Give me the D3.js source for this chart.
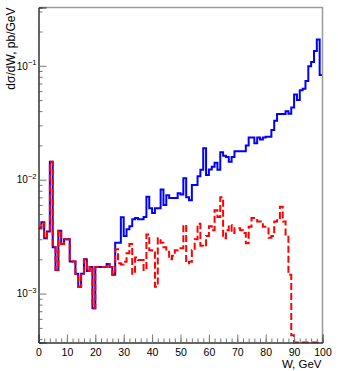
<!DOCTYPE html>
<html>
<head>
<meta charset="utf-8">
<script src="https://cdn.jsdelivr.net/npm/d3@7"></script>
<style>
  body { margin: 0; background: #fff; }
  text { font-family: "Liberation Sans", Arial, sans-serif; }
</style>
</head>
<body>
<script>
 // bin edges 0..100 GeV, 1 GeV bins
 const edges = d3.range(0, 101);

 const blue = [
   3.75e-3, 4.23e-3, 3.06e-3, 3.50e-3, 1.44e-2, 2.55e-3, 1.61e-3, 3.57e-3, 2.73e-3, 3.0e-3,
   3.0e-3, 1.91e-3, 1.91e-3, 1.49e-3, 1.15e-3, 1.49e-3, 2.0e-3, 1.58e-3, 1.71e-3, 7.45e-4,
   1.71e-3, 1.71e-3, 1.71e-3, 1.71e-3, 1.82e-3, 1.71e-3, 1.46e-3, 2.8e-3, 2.8e-3, 4.68e-3,
   3.2e-3, 3.67e-3, 3.9e-3, 4.5e-3, 4.6e-3, 4.5e-3, 4.5e-3, 4.7e-3, 7.1e-3, 5.6e-3,
   5.1e-3, 5.6e-3, 5.6e-3, 8.2e-3, 6.0e-3, 7.3e-3, 6.9e-3, 6.9e-3, 6.9e-3, 7.6e-3,
   7.4e-3, 1.03e-2, 7.0e-3, 6.6e-3, 9.0e-3, 9.0e-3, 1.07e-2, 1.22e-2, 1.89e-2, 1.10e-2,
   1.23e-2, 1.30e-2, 1.41e-2, 1.22e-2, 1.74e-2, 1.62e-2, 1.58e-2, 1.44e-2, 1.58e-2, 1.78e-2,
   1.78e-2, 1.78e-2, 1.78e-2, 2.0e-2, 2.35e-2, 2.35e-2, 2.09e-2, 2.35e-2, 2.25e-2, 2.35e-2,
   2.38e-2, 2.38e-2, 2.73e-2, 3.29e-2, 3.77e-2, 3.77e-2, 3.77e-2, 3.99e-2, 3.8e-2, 4.3e-2,
   5.6e-2, 5.0e-2, 6.1e-2, 6.3e-2, 7.35e-2, 9.9e-2, 0.108, 0.135, 0.170, 0.083
 ];

 const red = [
   3.75e-3, 4.23e-3, 3.06e-3, 3.50e-3, 1.44e-2, 2.55e-3, 1.61e-3, 3.57e-3, 2.73e-3, 3.0e-3,
   3.0e-3, 1.91e-3, 1.91e-3, 1.49e-3, 1.15e-3, 1.49e-3, 2.0e-3, 1.58e-3, 1.71e-3, 7.45e-4,
   1.71e-3, 1.71e-3, 1.71e-3, 1.71e-3, 1.82e-3, 1.71e-3, 1.46e-3, 2.45e-3, 1.85e-3, 1.8e-3,
   1.9e-3, 2.26e-3, 2.73e-3, 1.49e-3, 2.07e-3, 1.97e-3, 1.97e-3, 1.61e-3, 3.3e-3, 2.4e-3,
   2.3e-3, 1.15e-3, 3.06e-3, 2.8e-3, 2.55e-3, 2.33e-3, 2.0e-3, 2.15e-3, 2.4e-3, 2.5e-3,
   2.5e-3, 4.0e-3, 1.85e-3, 1.9e-3, 2.4e-3, 3.0e-3, 4.1e-3, 2.63e-3, 2.6e-3, 3.2e-3,
   3.9e-3, 3.6e-3, 5.4e-3, 4.7e-3, 7.0e-3, 3.06e-3, 3.6e-3, 4.0e-3, 3.4e-3, 3.75e-3,
   3.75e-3, 3.6e-3, 3.4e-3, 2.76e-3, 3.86e-3, 4.6e-3, 4.6e-3, 4.3e-3, 4.3e-3, 3.86e-3,
   3.86e-3, 3.1e-3, 3.2e-3, 4.3e-3, 4.4e-3, 5.8e-3, 4.3e-3, 3.3e-3, 1.46e-3, 4.3e-4,
   0, 0, 0, 0, 0, 0, 0, 0, 0, 0
 ];

 const xTicks = d3.range(0, 101, 10);
 const xMinor = d3.range(0, 101, 2);
 const yMajor = [1e-3, 1e-2, 1e-1];

 const width = 338;
 const height = 371;
 const mLeft = 38.5, mRight = 322.5, mTop = 7.5, mBottom = 342.5;

 const x = d3.scaleLinear().domain([0, 100]).range([mLeft, mRight]);
 const y = d3.scaleLog().domain([3.72e-4, 0.325]).range([mBottom, mTop]);
 const yMin = y.domain()[0];

 const svg = d3.select('body').append('svg')
   .attr('width', width)
   .attr('height', height);

 svg.append('clipPath').attr('id', 'frame')
   .append('rect')
   .attr('x', mLeft).attr('y', mTop - 1)
   .attr('width', mRight - mLeft).attr('height', mBottom - mTop + 2);

 // histogram outline as a step line
 const step = d3.line()
   .x(d => x(d[0]))
   .y(d => y(Math.max(d[1], yMin)))
   .curve(d3.curveStepAfter);

 const toPoints = vals => vals.map((v, i) => [edges[i], v]).concat([[edges[100], vals[99]]]);

 const g = svg.append('g').attr('clip-path', 'url(#frame)');

 g.append('path')
   .datum(toPoints(blue))
   .attr('d', step)
   .attr('fill', 'none')
   .attr('stroke', '#0000ff')
   .attr('stroke-width', 2);

 g.append('path')
   .datum(toPoints(red))
   .attr('d', step)
   .attr('fill', 'none')
   .attr('stroke', '#ff0000')
   .attr('stroke-width', 2)
   .attr('stroke-dasharray', '7,3');

 // frame: top and right
 svg.append('path')
   .attr('d', `M${mLeft},${mTop}H${mRight}V${mBottom}`)
   .attr('fill', 'none')
   .attr('stroke', '#9a9a9a')
   .attr('stroke-width', 1.5);

 // x axis
 const xAxisMinor = svg.append('g')
   .attr('transform', `translate(0,${mBottom})`)
   .call(d3.axisBottom(x).tickValues(xMinor).tickSize(-4).tickFormat(''));

 const xAxis = svg.append('g')
   .attr('transform', `translate(0,${mBottom})`)
   .call(d3.axisBottom(x).tickValues(xTicks).tickSize(-8).tickPadding(6).tickFormat(d3.format('d')));

 // y axis, minor ticks at 2..9 per decade
 const yMinor = y.ticks().filter(v => !yMajor.includes(v));

 const yAxisMinor = svg.append('g')
   .attr('transform', `translate(${mLeft},0)`)
   .call(d3.axisLeft(y).tickValues(yMinor).tickSize(-4).tickFormat(''));

 const yAxis = svg.append('g')
   .attr('transform', `translate(${mLeft},0)`)
   .call(d3.axisLeft(y).tickValues(yMajor).tickSize(-8).tickPadding(2).tickFormat(''));

 [xAxisMinor, xAxis, yAxisMinor, yAxis].forEach(a => {
   a.select('.domain').attr('stroke', '#333').attr('stroke-width', 1);
   a.selectAll('.tick line').attr('stroke', '#777');
 });

 xAxis.selectAll('.tick text')
   .attr('font-size', 10.5)
   .attr('font-family', '"Liberation Sans", Arial, sans-serif')
   .attr('fill', '#000');

 // 10^n labels
 yAxis.selectAll('.tick text')
   .attr('font-size', 10)
   .attr('font-family', '"Liberation Sans", Arial, sans-serif')
   .attr('fill', '#000')
   .each(function(d) {
     const t = d3.select(this);
     t.append('tspan').text('10');
     t.append('tspan')
       .attr('dy', '-0.55em')
       .attr('font-size', 7.5)
       .text('\u2212' + Math.abs(Math.round(Math.log10(d))));
   });

 // axis titles
 svg.append('text')
   .attr('transform', `translate(15,${mTop}) rotate(-90)`)
   .attr('text-anchor', 'end')
   .attr('font-size', 12)
   .text('d\u03c3/dW, pb/GeV');

 svg.append('text')
   .attr('x', mRight - 1)
   .attr('y', 367.5)
   .attr('text-anchor', 'end')
   .attr('font-size', 11.5)
   .text('W, GeV');
</script>
</body>
</html>
